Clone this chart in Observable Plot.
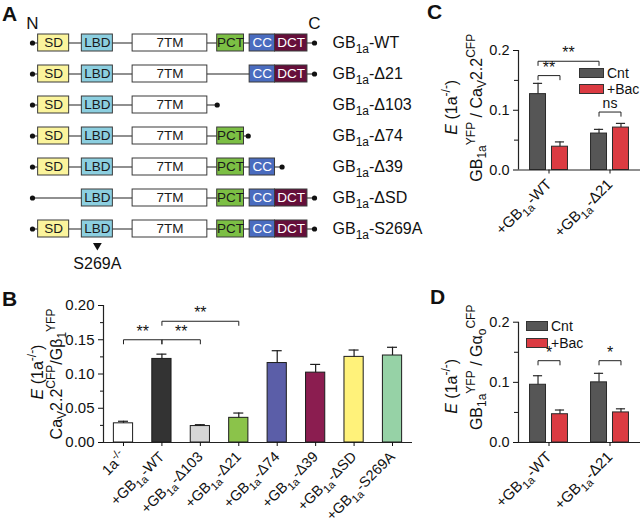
<!DOCTYPE html>
<html><head><meta charset="utf-8">
<script src="https://cdn.jsdelivr.net/npm/d3@7"></script>
<script src="https://cdn.jsdelivr.net/npm/@observablehq/plot@0.6"></script>
<style>
body{margin:0;background:#fff;}
#fig{position:relative;width:640px;height:522px;overflow:hidden;font-family:"Liberation Sans",Arial,Helvetica,sans-serif;color:#111;}
.letter{position:absolute;font-weight:bold;font-size:21px;line-height:1;}
.legend{position:absolute;font-size:14px;line-height:1;}
.legend .row{display:flex;align-items:center;}
.legend .sw{display:inline-block;height:8px;border:1px solid #333;margin-right:3px;}
</style></head><body><div id="fig"></div>
<script>
// ---------------- Panel A: construct schematics ----------------
const constructsA = ["GB_{1a}-WT","GB_{1a}-Δ21","GB_{1a}-Δ103","GB_{1a}-Δ74","GB_{1a}-Δ39","GB_{1a}-ΔSD","GB_{1a}-S269A"];
const constructStartA = [0,0,0,0,0,0,0];
const constructEndA = [100,100,65.5,76.5,88.5,100,100];
const constructDomainsA = [
  ["SD","LBD","7TM","PCT","CC","DCT"],
  ["SD","LBD","7TM","CC","DCT"],
  ["SD","LBD","7TM"],
  ["SD","LBD","7TM","PCT"],
  ["SD","LBD","7TM","PCT","CC"],
  ["LBD","7TM","PCT","CC","DCT"],
  ["SD","LBD","7TM","PCT","CC","DCT"]
];
const domainNamesA = ["SD","LBD","7TM","PCT","CC","DCT"];
const domainStartA = [2,17.5,35.5,65.5,77,86];
const domainEndA   = [13,28.5,62,75,86,97.5];
const domainFillA  = ["#fbf49c","#8ccfe0","#ffffff","#7cbf44","#4a6cbf","#650f3a"];
const domainTextA  = ["#1a1a1a","#1a1a1a","#1a1a1a","#1a1a1a","#ffffff","#ffffff"];
const termLabelsA = ["N","C"];
const mutationA = ["GB_{1a}-S269A","LBD","S269A"];

// ---------------- Panel B ----------------
const namesB  = ["1a^{-/-}","+GB_{1a}-WT","+GB_{1a}-Δ103","+GB_{1a}-Δ21","+GB_{1a}-Δ74","+GB_{1a}-Δ39","+GB_{1a}-ΔSD","+GB_{1a}-S269A"];
const valuesB = [0.028,0.122,0.024,0.036,0.116,0.102,0.125,0.127];
const errorsB = [0.031,0.129,0.026,0.043,0.134,0.114,0.135,0.139];
const colorsB = ["#ffffff","#333333","#d6d6d6","#8bc34a","#5b5ea8","#8b1d50","#fff27a","#96d2a6"];
const bracketFromB  = [0,1,1];
const bracketToB    = [1,2,3];
const bracketLevelB = [0.150,0.150,0.177];
const bracketTextB  = ["**","**","**"];
const yTicksB = [0,0.05,0.10,0.15,0.20];
const yMinorB = [0.025,0.075,0.125,0.175];
const yLabelB = ["~{E} (1a^{-/-})","Ca_{V}2.2^{CFP}/Gβ_{1}^{YFP}"];

// ---------------- Panel C ----------------
const groupsC = ["+GB_{1a}-WT","+GB_{1a}-Δ21"];
const seriesC = ["Cnt","+Bac"];
const colorsC = ["#565656","#db3b42"];
const cntC = [0.127,0.061];
const bacC = [0.039,0.071];
const cntErrC = [0.145,0.068];
const bacErrC = [0.047,0.078];
const bracketFromC  = [[0,0],[0,0],[1,0]];
const bracketToC    = [[0,1],[1,0],[1,1]];
const bracketLevelC = [0.158,0.182,0.097];
const bracketTextC  = ["**","**","ns"];
const yLabelC = ["~{E} (1a^{-/-})","GB_{1a}^{YFP} / Ca_{V}2.2^{CFP}"];

// ---------------- Panel D ----------------
const groupsD = ["+GB_{1a}-WT","+GB_{1a}-Δ21"];
const seriesD = ["Cnt","+Bac"];
const colorsD = ["#565656","#db3b42"];
const cntD = [0.096,0.100];
const bacD = [0.047,0.050];
const cntErrD = [0.111,0.115];
const bacErrD = [0.054,0.056];
const bracketFromD  = [[0,0],[1,0]];
const bracketToD    = [[0,1],[1,1]];
const bracketLevelD = [0.136,0.136];
const bracketTextD  = ["*","*"];
const yLabelD = ["~{E} (1a^{-/-})","GB_{1a}^{YFP} / Gα_{o}^{CFP}"];
const yTicksCD = [0,0.1,0.2];
const yMinorCD = [0.05,0.15];

// ---------------- helpers ----------------
const FONT = '"Liberation Sans", Arial, Helvetica, sans-serif';
const fig = document.getElementById("fig");
function place(svg, left, top) {
  svg.style.position = "absolute";
  svg.style.left = left + "px";
  svg.style.top = top + "px";
  fig.appendChild(svg);
  richify(svg);
}
function richify(svg) {
  d3.select(svg).selectAll("text").each(function() {
    const el = this;
    const str = el.textContent;
    if (!/[_^~]\{/.test(str)) return;
    const fs = parseFloat(getComputedStyle(el).fontSize) || 13;
    const parts = [];
    let i = 0, buf = "";
    while (i < str.length) {
      const c = str[i];
      if ((c === "_" || c === "^" || c === "~") && str[i + 1] === "{") {
        if (buf) { parts.push([buf, "n"]); buf = ""; }
        const j = str.indexOf("}", i + 2);
        parts.push([str.slice(i + 2, j), c]);
        i = j + 1;
      } else { buf += c; i++; }
    }
    if (buf) parts.push([buf, "n"]);
    while (el.firstChild) el.removeChild(el.firstChild);
    let cur = 0;
    parts.forEach(([t, k]) => {
      const ts = document.createElementNS("http://www.w3.org/2000/svg", "tspan");
      const target = k === "_" ? 0.3 * fs : k === "^" ? -0.42 * fs : 0;
      if (target !== cur) ts.setAttribute("dy", (target - cur).toFixed(2));
      cur = target;
      if (k === "_" || k === "^") ts.setAttribute("font-size", (0.75 * fs).toFixed(2));
      if (k === "~") ts.setAttribute("font-style", "italic");
      ts.textContent = t;
      el.appendChild(ts);
    });
    const anchor = getComputedStyle(el).textAnchor;
    if (anchor === "middle" || anchor === "end") {
      const len = el.getComputedTextLength();
      const x0 = parseFloat(el.getAttribute("x") || "0") || 0;
      el.setAttribute("x", (x0 - (anchor === "middle" ? len / 2 : len)).toFixed(2));
      el.setAttribute("text-anchor", "start");
      el.style.textAnchor = "start";
    }
  });
}
function letter(txt, left, top) {
  const d = document.createElement("div");
  d.className = "letter"; d.textContent = txt;
  d.style.left = left + "px"; d.style.top = top + "px";
  fig.appendChild(d);
}
function legend(series, colors, left, top, swW, rowH) {
  const d = document.createElement("div");
  d.className = "legend"; d.style.left = left + "px"; d.style.top = top + "px";
  series.forEach((s, i) => {
    const r = document.createElement("div"); r.className = "row"; r.style.height = rowH + "px";
    const sw = document.createElement("span"); sw.className = "sw";
    sw.style.width = swW + "px"; sw.style.background = colors[i];
    const t = document.createElement("span"); t.textContent = s;
    r.appendChild(sw); r.appendChild(t); d.appendChild(r);
  });
  fig.appendChild(d);
}
const baseStyle = fs => ({background: "transparent", fontFamily: FONT, fontSize: fs + "px", overflow: "visible", color: "#111"});

// ---------------- Panel A plot ----------------
const rowsA = constructsA.map((name, i) => ({name, start: constructStartA[i], end: constructEndA[i]}));
const boxesA = constructsA.flatMap((name, i) => constructDomainsA[i].map(dn => {
  const k = domainNamesA.indexOf(dn);
  return {row: name, domain: dn, x1: domainStartA[k], x2: domainEndA[k], fill: domainFillA[k], color: domainTextA[k]};
}));
const fullLength = d3.max(constructEndA);
const mutK = domainNamesA.indexOf(mutationA[1]);
const mutX = (domainStartA[mutK] + domainEndA[mutK]) / 2;
const plotA = Plot.plot({
  width: 440, height: 280, marginLeft: 32, marginRight: 126, marginTop: 23.5, marginBottom: 33.5,
  style: baseStyle(15),
  color: {type: "identity"},
  x: {domain: [0, fullLength], axis: null, label: null},
  y: {domain: constructsA, type: "band", paddingInner: 0.46, paddingOuter: 0.27, axis: null, label: null},
  marks: [
    Plot.ruleY(rowsA, {y: "name", x1: "start", x2: "end", stroke: "#222", strokeWidth: 1.2}),
    Plot.dot(rowsA, {x: "start", y: "name", r: 2.6, fill: "#111"}),
    Plot.dot(rowsA, {x: "end", y: "name", r: 2.6, fill: "#111"}),
    Plot.barX(boxesA, {x1: "x1", x2: "x2", y: "row", fill: "fill", stroke: "#3a3a3a", strokeWidth: 1}),
    Plot.text(boxesA, {x: d => (d.x1 + d.x2) / 2, y: "row", text: "domain", fill: "color", fontSize: 13.5}),
    Plot.text(rowsA, {x: () => fullLength, y: "name", text: "name", dx: 18, textAnchor: "start", fontSize: 16}),
    Plot.text(termLabelsA, {x: (d, i) => i ? fullLength : 0, y: () => constructsA[0], text: d => d, dy: -19.5, fontSize: 17}),
    Plot.ruleX([mutationA], {x: () => mutX, y: d => d[0], dy: 17, insetBottom: 8, stroke: "#111", strokeWidth: 1.3}),
    Plot.dot([mutationA], {x: () => mutX, y: d => d[0], dy: 16.5, symbol: "triangle2", rotate: 180, r: 4.2, fill: "#111"}),
    Plot.text([mutationA], {x: () => mutX, y: d => d[0], dy: 34.5, text: d => d[2], fontSize: 16})
  ]
});
place(plotA, 0, 0);

// ---------------- Panel B plot ----------------
const idxB = d3.range(namesB.length);
const rowsB = idxB.map(i => ({i, value: valuesB[i], err: errorsB[i], color: colorsB[i]}));
const xDomainB = [-0.52, namesB.length - 1 + 0.52];
const dropB = 0.006;
const bracketPtsB = bracketFromB.flatMap((a, k) => {
  const b = bracketToB[k], y = bracketLevelB[k];
  return [[a, y - dropB], [a, y], [b, y], [b, y - dropB]].map(([x, yy]) => ({k, x, y: yy}));
});
const plotB = Plot.plot({
  width: 420, height: 242, marginLeft: 103, marginRight: 8, marginTop: 25, marginBottom: 80,
  style: baseStyle(15),
  color: {type: "identity"},
  x: {domain: xDomainB, axis: null, label: null},
  y: {domain: [0, 0.2], axis: null, label: null},
  marks: [
    Plot.rectY(rowsB, {x1: d => d.i - 0.25, x2: d => d.i + 0.25, y1: 0, y2: "value", fill: "color", stroke: "#1c1c1c", strokeWidth: 1}),
    Plot.ruleX(rowsB, {x: "i", y1: "value", y2: "err", stroke: "#1c1c1c", strokeWidth: 1.2}),
    Plot.ruleY(rowsB, {y: "err", x1: d => d.i - 0.13, x2: d => d.i + 0.13, stroke: "#1c1c1c", strokeWidth: 1.2}),
    Plot.ruleY([0], {stroke: "#222", strokeWidth: 1.2}),
    Plot.ruleX([xDomainB[0]], {stroke: "#222", strokeWidth: 1.2}),
    Plot.axisY({ticks: yTicksB, tickFormat: ".2f", tickSize: 5, label: null, fontSize: 15}),
    Plot.axisY({ticks: yMinorB, tickFormat: () => "", tickSize: 3, label: null}),
    Plot.axisX({ticks: idxB, tickFormat: i => namesB[i], tickRotate: -45, tickSize: 4, label: null, fontSize: 14.5}),
    Plot.line(bracketPtsB, {x: "x", y: "y", z: "k", stroke: "#222", strokeWidth: 1}),
    Plot.text(bracketFromB, {x: (a, k) => (a + bracketToB[k]) / 2, y: (a, k) => bracketLevelB[k], text: (a, k) => bracketTextB[k], dy: -8, fontSize: 16}),
    Plot.text([yLabelB[0]], {frameAnchor: "left", textAnchor: "middle", rotate: -90, dx: -66, dy: -2, fontSize: 16}),
    Plot.text([yLabelB[1]], {frameAnchor: "left", textAnchor: "middle", rotate: -90, dx: -47, fontSize: 16})
  ]
});
place(plotB, 0, 280);

// ---------------- Panels C & D (grouped bars) ----------------
function grouped({groups, series, colors, values, errors, bFrom, bTo, bLevel, bText, yLabel, height, marginTop, marginBottom, labelDy}) {
  const off = 0.36, half = 0.131, cap = 0.075, drop = 0.007;
  const pos = (g, s) => g + (s - (series.length - 1) / 2) * off;
  const rows = groups.flatMap((g, gi) => series.map((s, si) => ({
    x: pos(gi, si), value: values[si][gi], err: errors[si][gi], color: colors[si]
  })));
  const pts = bFrom.flatMap((a, k) => {
    const xa = pos(a[0], a[1]), xb = pos(bTo[k][0], bTo[k][1]), y = bLevel[k];
    return [[xa, y - drop], [xa, y], [xb, y], [xb, y - drop]].map(([x, yy]) => ({k, x, y: yy}));
  });
  const mid = a => { const k = bFrom.indexOf(a); return (pos(a[0], a[1]) + pos(bTo[k][0], bTo[k][1])) / 2; };
  const xDomain = [-0.5, groups.length - 0.5];
  return Plot.plot({
    width: 210, height, marginLeft: 88, marginRight: 0, marginTop, marginBottom,
    style: baseStyle(14),
    color: {type: "identity"},
    x: {domain: xDomain, axis: null, label: null},
    y: {domain: [0, 0.2], axis: null, label: null},
    marks: [
      Plot.rectY(rows, {x1: d => d.x - half, x2: d => d.x + half, y1: 0, y2: "value", fill: "color", stroke: "#2a2a2a", strokeWidth: 1}),
      Plot.ruleX(rows, {x: "x", y1: "value", y2: "err", stroke: "#2a2a2a", strokeWidth: 1.2}),
      Plot.ruleY(rows, {y: "err", x1: d => d.x - cap, x2: d => d.x + cap, stroke: "#2a2a2a", strokeWidth: 1.2}),
      Plot.ruleY([0], {stroke: "#222", strokeWidth: 1.2}),
      Plot.ruleX([xDomain[0]], {stroke: "#222", strokeWidth: 1.2}),
      Plot.axisY({ticks: yTicksCD, tickFormat: ".1f", tickSize: 5, label: null, fontSize: 14.5}),
      Plot.axisY({ticks: yMinorCD, tickFormat: () => "", tickSize: 4, label: null}),
      Plot.axisX({ticks: d3.range(groups.length), tickFormat: i => groups[i], tickRotate: -45, tickSize: 4, label: null, fontSize: 15}),
      Plot.line(pts, {x: "x", y: "y", z: "k", stroke: "#222", strokeWidth: 1}),
      Plot.text(bFrom.filter((a, k) => bText[k] !== "ns"), {x: mid, y: a => bLevel[bFrom.indexOf(a)], text: a => bText[bFrom.indexOf(a)], dy: -8, fontSize: 16}),
      Plot.text(bFrom.filter((a, k) => bText[k] === "ns"), {x: mid, y: a => bLevel[bFrom.indexOf(a)], text: a => bText[bFrom.indexOf(a)], dy: -9, fontSize: 14}),
      Plot.text([yLabel[0]], {frameAnchor: "left", textAnchor: "middle", rotate: -90, dx: -67, dy: labelDy[0], fontSize: 16}),
      Plot.text([yLabel[1]], {frameAnchor: "left", textAnchor: "middle", rotate: -90, dx: -42, dy: labelDy[1], fontSize: 16})
    ]
  });
}
const plotC = grouped({groups: groupsC, series: seriesC, colors: colorsC, values: [cntC, bacC], errors: [cntErrC, bacErrC],
  bFrom: bracketFromC, bTo: bracketToC, bLevel: bracketLevelC, bText: bracketTextC, yLabel: yLabelC,
  height: 260, marginTop: 50, marginBottom: 90.5, labelDy: [-3, -2.5]});
place(plotC, 430, 0);
const plotD = grouped({groups: groupsD, series: seriesD, colors: colorsD, values: [cntD, bacD], errors: [cntErrD, bacErrD],
  bFrom: bracketFromD, bTo: bracketToD, bLevel: bracketLevelD, bText: bracketTextD, yLabel: yLabelD,
  height: 262, marginTop: 61.7, marginBottom: 80, labelDy: [4, -15]});
place(plotD, 430, 260);

legend(seriesC, colorsC, 579, 64.5, 23, 16);
legend(seriesD, colorsD, 526, 317, 20, 17.5);
letter("A", 2, 2.5);
letter("B", 2, 287.5);
letter("C", 427, 1);
letter("D", 430, 286);
</script></body></html>
